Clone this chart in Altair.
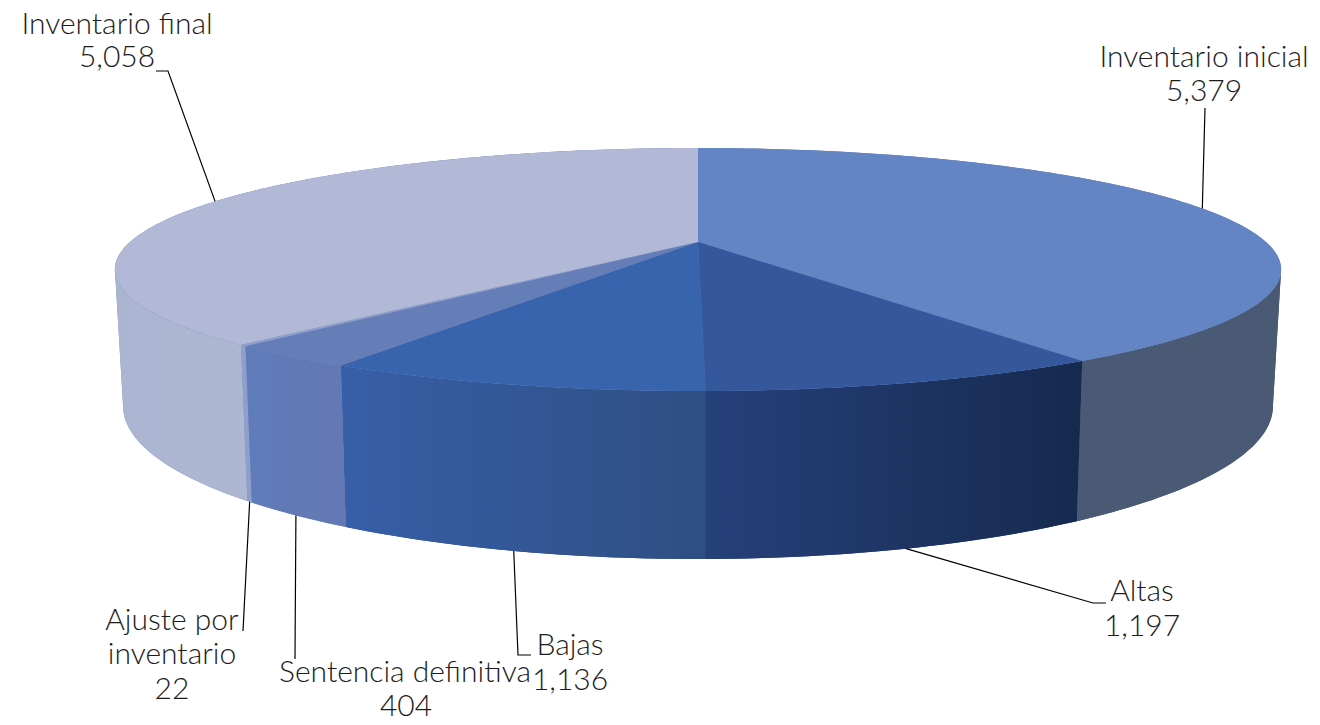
import math
import altair as alt
import pandas as pd

# --- chart values ---
categories = ["Inventario inicial", "Altas", "Bajas", "Sentencia definitiva", "Ajuste por inventario", "Inventario final"]
values = [5379, 1197, 1136, 404, 22, 5058]

# --- styles ---
top_colors = ["#6485c3", "#34589b", "#3864ae", "#667eb8", "#8e9fcb", "#b1b9d6"]
wall_stops = [("#4a5a74", "#4a5a74"), ("#26407a", "#162a4f"), ("#375fa8", "#2f4f82"),
              ("#5f7cba", "#6478b2"), ("#8f9fcb", "#8f9fcb"), ("#abb5d1", "#aeb7d2")]
FONT = "Lato"
FONT_SIZE = 30
TEXT_COLOR = "#1c1c1c"

# label lines: (text, x, y)
label_lines = [
    ("Inventario inicial", 1204, 58), ("5,379", 1204, 92),
    ("Altas", 1142, 592), ("1,197", 1142, 627),
    ("Bajas", 570, 646), ("1,136", 570, 681),
    ("Sentencia definitiva", 405, 673), ("404", 406, 707),
    ("Ajuste por", 172, 621), ("inventario", 172, 655), ("22", 172, 690),
    ("Inventario final", 117, 25), ("5,058", 117, 58),
]
# leader path beyond the rim anchor, per slice
leader_ends = [
    [(1205, 108)],
    [(1093, 603), (1106, 603)],
    [(518, 655), (531, 655)],
    [(295, 659)],
    [(243, 631)],
    [(168, 71), (156, 71)],
]
leader_on_top = [True, False, False, False, False, True]
leader_nudge = [-1.5, 0, 0, 0, 0, 1.5]

# --- perspective projection of the disc ---
CX = 698
K = 0.2263
LEFT_SILHOUETTE = 257.0
RIGHT_SILHOUETTE = 103.0


def project(theta_deg, level):
    th = math.radians(theta_deg)
    sx, fy = math.sin(th), -math.cos(th)
    den = 1 - K * fy
    if level == "top":
        return CX + 568 * sx / den, 242 + 115.3 * fy / den
    return CX + 560 * sx / den, 371.6 + 145 * fy / den


total = sum(values)
edges = [0.0]
for v in values:
    edges.append(edges[-1] + v / total * 360)


def sweep(a, b, step=1.0):
    n = max(2, int(abs(b - a) / step) + 1)
    return [a + (b - a) * i / (n - 1) for i in range(n)]


x_scale = alt.Scale(domain=[8, 1312], range=[0, 1304], nice=False, zero=False)
y_scale = alt.Scale(domain=[8, 724], range=[0, 716], nice=False, zero=False)


def enc(chart):
    return chart.encode(
        x=alt.X("x:Q", scale=x_scale, axis=None),
        y=alt.Y("y:Q", scale=y_scale, axis=None),
        order=alt.Order("i:Q"),
    )


def polygon(chart_pts, fill):
    df = pd.DataFrame([{"x": p[0], "y": p[1], "i": i} for i, p in enumerate(chart_pts)])
    return enc(alt.Chart(df).mark_line(fill=fill, strokeWidth=0, interpolate="linear-closed"))


def wall_points(a, b):
    angles = sweep(a, b)
    return [project(t, "top") for t in angles] + [project(t, "bottom") for t in reversed(angles)]


layers = []
# underlay hides the hairline seams between neighbouring walls
layers.append(polygon(wall_points(edges[1], edges[3]), "#26407a"))
layers.append(polygon(wall_points(edges[3], LEFT_SILHOUETTE), "#7a8fc0"))
layers.append(polygon(wall_points(RIGHT_SILHOUETTE, edges[1]), "#3a4f72"))

# walls, only the part of each slice facing the viewer
for idx in [0, 5, 4, 3, 1, 2]:
    a2, b2 = max(edges[idx], RIGHT_SILHOUETTE), min(edges[idx + 1], LEFT_SILHOUETTE)
    grad = alt.LinearGradient(
        gradient="linear", x1=0, x2=1, y1=0, y2=0,
        stops=[alt.GradientStop(offset=0, color=wall_stops[idx][0]),
               alt.GradientStop(offset=1, color=wall_stops[idx][1])],
    )
    layers.append(polygon(wall_points(a2, b2), grad))

# top faces
disc = [project(t, "top") for t in sweep(0, 360)]
layers.append(polygon(disc, "#5c78b6"))
for idx in range(len(values)):
    angles = sweep(edges[idx], edges[idx + 1])
    pts = [(CX, 242)] + [project(t, "top") for t in angles]
    layers.append(polygon(pts, top_colors[idx]))

# leader lines start at each slice's mid angle
for idx in range(len(values)):
    mid = (edges[idx] + edges[idx + 1]) / 2 + leader_nudge[idx]
    start = project(mid, "top" if leader_on_top[idx] else "bottom")
    pts = [start] + leader_ends[idx]
    df = pd.DataFrame([{"x": p[0], "y": p[1], "i": i} for i, p in enumerate(pts)])
    layers.append(enc(alt.Chart(df).mark_line(color="#000000", strokeWidth=1.2)))

# labels
labels_df = pd.DataFrame(label_lines, columns=["label", "x", "y"])
layers.append(
    alt.Chart(labels_df).mark_text(font=FONT, fontSize=FONT_SIZE, fontWeight=300, color=TEXT_COLOR, align="center", baseline="middle").encode(
        x=alt.X("x:Q", scale=x_scale, axis=None),
        y=alt.Y("y:Q", scale=y_scale, axis=None),
        text="label:N",
    )
)

chart = (
    alt.layer(*layers)
    .properties(width=1304, height=716, padding=0, background="#ffffff",
                autosize=alt.AutoSizeParams(type="none"))
    .configure_view(strokeWidth=0, stroke="transparent")
)
chart.save("out.html", embed_options={"renderer": "svg", "actions": False})
